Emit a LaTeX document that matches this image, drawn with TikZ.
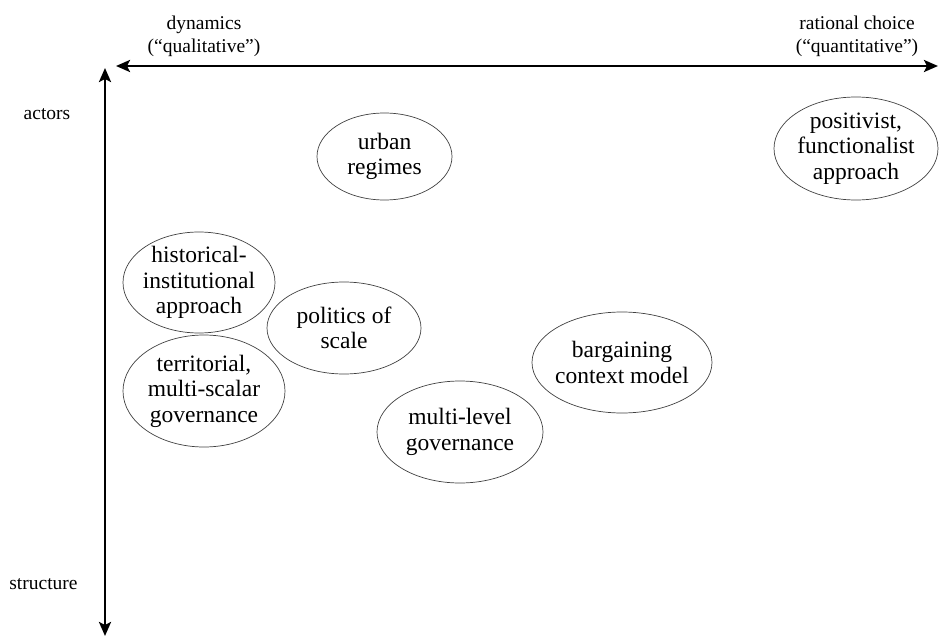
\documentclass[tikz,border=0pt]{standalone}
\usepackage{fontspec}
\setmainfont{Liberation Serif}
\usepackage{tikz}
\usetikzlibrary{shapes.geometric, arrows.meta}

\tikzset{
    approach/.style={ellipse, draw=black!75, line width=0.7pt, align=center,
        inner sep=-6pt, font=\rmfamily\fontsize{23.5}{25.5}\selectfont},
    axislabel/.style={align=center, font=\rmfamily\fontsize{19.5}{22.7}\selectfont},
    axis/.style={line width=2.6pt, {Stealth[length=14pt,width=12pt,inset=3pt]}-{Stealth[length=14pt,width=12pt,inset=3pt]}}
}

\begin{document}
\begin{tikzpicture}[x=1pt, y=-1pt]
    \useasboundingbox (0,0) rectangle (940,637);
    % Achsen
    \coordinate(dyn_end)                        at (116,66);
    \coordinate(rat_end)                        at (938,66);
    \coordinate(act_end)                        at (105,68);
    \coordinate(str_end)                        at (105,636);
    \node[axislabel](dyn)                       at (204,36) {dynamics\\(“qualitative”)};
    \node[axislabel](rat)                       at (857,36) {rational choice\\(“quantitative”)};
    \node[axislabel](act)                       at (47,114.5) {actors};
    \node[axislabel](str)                       at (43.5,584.5) {structure};
    % Ansaetze
    \node[approach, minimum width=135, minimum height=87](urban)        at (384.5,156.5) {urban\\regimes};
    \node[approach, minimum width=164, minimum height=103](positivist)  at (856,148.5) {positivist,\\functionalist\\approach};
    \node[approach, minimum width=152, minimum height=101](historical)  at (199,282.5) {historical-\\institutional\\approach};
    \node[approach, minimum width=154, minimum height=92](politics)     at (344,328) {politics of\\scale};
    \node[approach, minimum width=162, minimum height=112](territorial) at (204,391) {territorial,\\multi-scalar\\governance};
    \node[approach, minimum width=180, minimum height=101](bargaining)  at (622,362.5) {bargaining\\context model};
    \node[approach, minimum width=166, minimum height=102](multilevel)  at (460,432) {multi-level\\governance};
    \path
        (dyn_end)
            edge [axis] (rat_end)
        (act_end)
            edge [axis] (str_end)
        ;
\end{tikzpicture}
\end{document}
